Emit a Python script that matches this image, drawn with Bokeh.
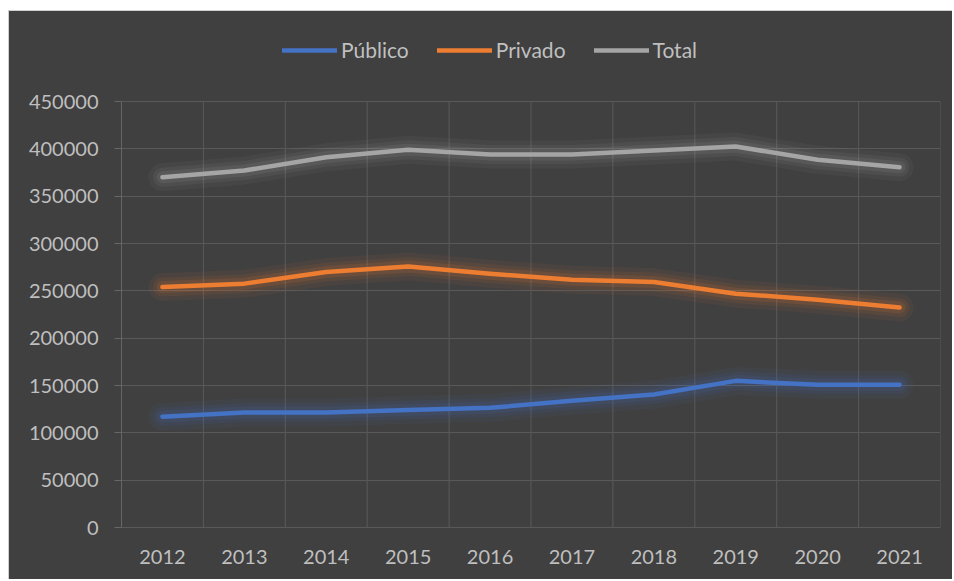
from bokeh.plotting import figure
from bokeh.models import (Range1d, FixedTicker, BasicTickFormatter, Legend, LegendItem)
from bokeh.embed import file_html
from bokeh.resources import INLINE

years = ["2012", "2013", "2014", "2015", "2016", "2017", "2018", "2019", "2020", "2021"]
publico = [117000, 121500, 121500, 124000, 126400, 133800, 140500, 154900, 150700, 150700]
privado = [254000, 257600, 269800, 275800, 268100, 261800, 259300, 247000, 240700, 232300]
total = [370000, 377100, 391100, 399000, 394000, 394000, 398200, 402400, 388400, 380600]
y_ticks = [0, 50000, 100000, 150000, 200000, 250000, 300000, 350000, 400000, 450000]

series = [("Público", publico, "#4472C4"),
          ("Privado", privado, "#ED7D31"),
          ("Total", total, "#A5A5A5")]

BG = "#404040"
GRID = "#595959"
AXIS = "#666666"
TEXT = "#bfbfbf"
FONT = "Lato"

# layout (pixels)
FIG_W, FIG_H = 944, 569
BORDER_BOTTOM = 53
FRAME_H = FIG_H - BORDER_BOTTOM          # frame spans from the top of the figure
PLOT_H = 426                             # height of the value area (0 .. 450000)

x = [i + 0.5 for i in range(len(years))]
y_top = y_ticks[-1] * FRAME_H / PLOT_H   # leaves room for the legend above the grid

p = figure(width=FIG_W, height=FIG_H, output_backend="svg", toolbar_location=None,
           x_range=Range1d(0, len(years)), y_range=Range1d(y_ticks[0], y_top),
           min_border_left=112, min_border_right=13, min_border_top=0,
           min_border_bottom=BORDER_BOTTOM)
p.styles = {"margin-left": "8px", "margin-top": "10px", "background-color": BG,
            "border-top": "1px solid #cfcfcf", "border-left": "1px solid #cfcfcf"}
p.background_fill_color = BG
p.border_fill_color = BG
p.outline_line_color = None

p.xaxis.ticker = FixedTicker(ticks=x)
p.xaxis.major_label_overrides = {xv: yr for xv, yr in zip(x, years)}
p.xaxis.major_tick_line_color = None
p.xaxis.minor_tick_line_color = None
p.xaxis.axis_line_color = GRID
p.xaxis.major_label_standoff = 16

p.yaxis.ticker = FixedTicker(ticks=y_ticks)
p.yaxis.bounds = (y_ticks[0], y_ticks[-1])
p.yaxis.formatter = BasicTickFormatter(use_scientific=False)
p.yaxis.major_tick_in = 0
p.yaxis.major_tick_out = 7
p.yaxis.major_tick_line_color = AXIS
p.yaxis.minor_tick_line_color = None
p.yaxis.axis_line_color = AXIS
p.yaxis.major_label_standoff = 16

for ax in (p.xaxis[0], p.yaxis[0]):
    ax.major_label_text_font = FONT
    ax.major_label_text_font_size = "20px"
    ax.major_label_text_color = TEXT

# horizontal grid
p.ygrid.ticker = FixedTicker(ticks=y_ticks)
p.ygrid.grid_line_color = GRID
p.xgrid.visible = False
# vertical grid lines on category boundaries, limited to the value area
bounds = list(range(1, len(years) + 1))
p.segment(x0=bounds, y0=[y_ticks[0]] * len(bounds), x1=bounds, y1=[y_ticks[-1]] * len(bounds),
          line_color=GRID, line_width=1)

items = []
for name, vals, color in series:
    for w, a in ((28, 0.06), (19, 0.09), (12, 0.13)):
        p.line(x, vals, line_color=color, line_width=w, line_alpha=a,
               line_join="round", line_cap="round")
    r = p.line(x, vals, line_color=color, line_width=4.5,
               line_join="round", line_cap="round")
    items.append(LegendItem(label=name, renderers=[r]))

legend = Legend(items=items, orientation="horizontal", location=(161, 465),
                glyph_width=55, glyph_height=20, label_height=20, label_standoff=4,
                spacing=28, padding=0, margin=0,
                background_fill_alpha=0, border_line_color=None,
                label_text_font=FONT, label_text_font_size="21px",
                label_text_color=TEXT)
p.add_layout(legend, "center")

open("out.html", "w").write(file_html(p, INLINE))
